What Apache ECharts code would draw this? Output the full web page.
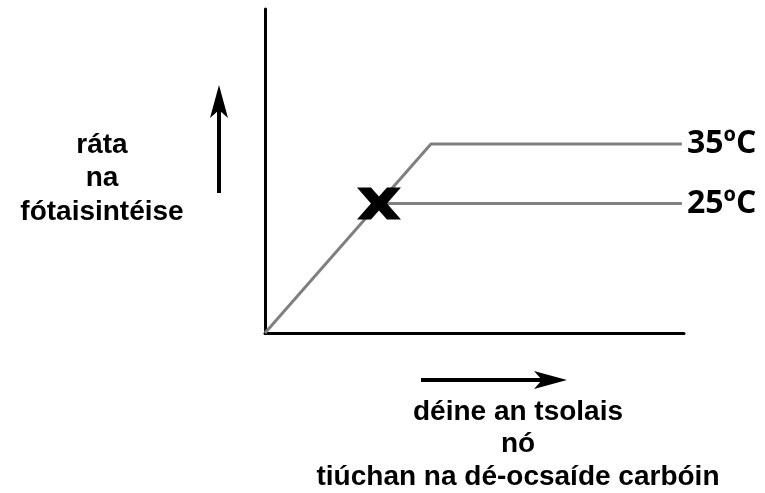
<!DOCTYPE html>
<html>
<head>
<meta charset="utf-8">
<script src="https://cdn.jsdelivr.net/npm/echarts@6/dist/echarts.min.js"></script>
<style>
    html, body { margin: 0; padding: 0; background: #fff; }
    #chart { width: 765px; height: 493px; }
</style>
</head>
<body>
<div id="chart"></div>
<script>
    // data (axis units 0..100, no scale shown in the picture)
    var line35 = [[0, 0], [39.6, 58.3], [99.5, 58.3]];
    var line25 = [[27.2, 40], [99.5, 40]];
    var crossPoint = [[27.2, 40]];
    var seriesNames = ['35ºC', '25ºC'];
    var yTitle = ['ráta', 'na', 'fótaisintéise'];
    var xTitle = ['déine an tsolais', 'nó', 'tiúchan na dé-ocsaíde carbóin'];

    var chart = echarts.init(document.getElementById('chart'));

    var lineStyle = { color: '#808080', width: 3 };
    var endLabel = {
        show: true,
        formatter: '{a}',
        distance: 5,
        color: '#000',
        fontFamily: 'Open Sans',
        fontWeight: 'bold',
        fontSize: 32
    };
    var titleFont = 'bold 28px "Liberation Sans", Arial';

    // axis titles, one text per line
    var texts = [];
    yTitle.forEach(function (t, i) {
        texts.push({
            type: 'text', x: 102, y: 145 + i * 33.5,
            style: { text: t, align: 'center', verticalAlign: 'middle', font: titleFont, fill: '#000' }
        });
    });
    xTitle.forEach(function (t, i) {
        texts.push({
            type: 'text', x: 518, y: 412 + i * 32.5,
            style: { text: t, align: 'center', verticalAlign: 'middle', font: titleFont, fill: '#000' }
        });
    });

    chart.setOption({
        animation: false,
        backgroundColor: '#fff',
        grid: { left: 265, right: 81, top: 9, bottom: 160 },
        xAxis: {
            type: 'value', min: 0, max: 100,
            axisLine: { show: true, onZero: false, lineStyle: { color: '#000', width: 3 } },
            axisTick: { show: false }, axisLabel: { show: false }, splitLine: { show: false }
        },
        yAxis: {
            type: 'value', min: 0, max: 100,
            axisLine: { show: true, onZero: false, lineStyle: { color: '#000', width: 3 } },
            axisTick: { show: false }, axisLabel: { show: false }, splitLine: { show: false }
        },
        series: [{
            name: seriesNames[0],
            type: 'line',
            data: line35,
            symbol: 'none',
            lineStyle: lineStyle,
            endLabel: endLabel
        }, {
            name: seriesNames[1],
            type: 'line',
            data: line25,
            symbol: 'none',
            lineStyle: lineStyle,
            endLabel: endLabel
        }, {
            type: 'scatter',
            data: crossPoint,
            symbol: 'path://M0 0 L14 0 L22 9 L30 0 L44 0 L30 16 L44 32 L30 32 L22 23 L14 32 L0 32 L14 16 Z',
            symbolSize: [44, 32],
            itemStyle: { color: '#000', opacity: 1 },
            z: 5
        }],
        graphic: [
            // y arrow
            { type: 'line', shape: { x1: 219, y1: 193, x2: 219, y2: 105 }, style: { stroke: '#000', lineWidth: 4 } },
            { type: 'polygon', shape: { points: [[219, 85], [228, 118], [219, 110], [210, 118]] }, style: { fill: '#000' } },
            // x arrow
            { type: 'line', shape: { x1: 421, y1: 380, x2: 545, y2: 380 }, style: { stroke: '#000', lineWidth: 4 } },
            { type: 'polygon', shape: { points: [[567, 380], [534, 371], [542, 380], [534, 389]] }, style: { fill: '#000' } }
        ].concat(texts)
    });
</script>
</body>
</html>
